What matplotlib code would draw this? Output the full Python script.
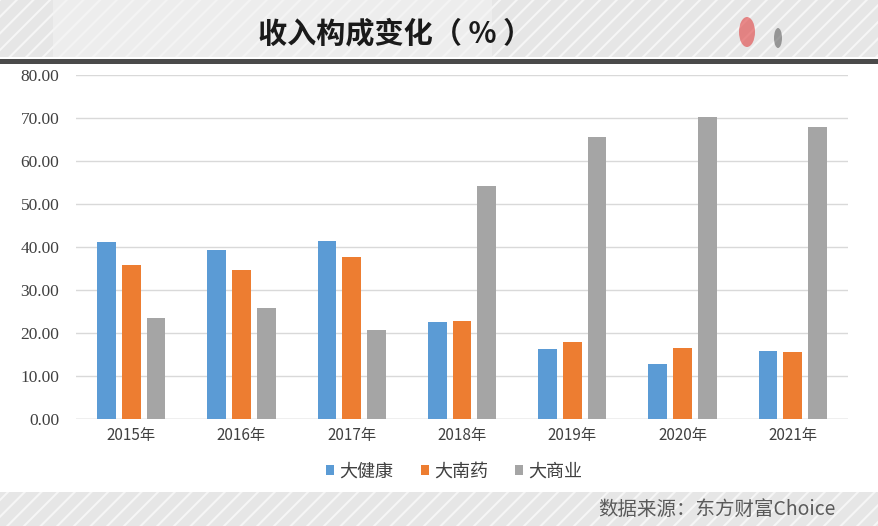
import numpy as np
import matplotlib.pyplot as plt
from matplotlib.patches import Rectangle, Ellipse

plt.rcParams['font.family'] = ['Noto Sans CJK SC', 'DejaVu Sans']
plt.rcParams['hatch.linewidth'] = 1.5

years = ['2015年', '2016年', '2017年', '2018年', '2019年', '2020年', '2021年']
health = [41.1, 39.2, 41.3, 22.6, 16.3, 12.8, 15.9]
pharma = [35.7, 34.7, 37.6, 22.8, 17.9, 16.5, 15.6]
commerce = [23.4, 25.9, 20.7, 54.1, 65.5, 70.2, 67.8]
series_names = ['大健康', '大南药', '大商业']
colors = ['#5B9BD5', '#ED7D31', '#A5A5A5']

fig = plt.figure(figsize=(8.79, 5.26), dpi=100)
fig.patch.set_facecolor('white')

# top and bottom banners with diagonal stripes
fig.patches.append(Rectangle((0, 1 - 57/526), 1, 57/526, transform=fig.transFigure,
                             facecolor='#e6e6e6', edgecolor='#f6f6f6', hatch='//',
                             linewidth=0, zorder=0))
fig.patches.append(Rectangle((0.06, 1 - 57/526), 0.5, 57/526, transform=fig.transFigure,
                             facecolor='#f3f3f3', linewidth=0, zorder=0, alpha=0.6))
fig.patches.append(Rectangle((0, 1 - 64/526), 1, 5/526, transform=fig.transFigure,
                             facecolor='#4a4a4a', linewidth=0, zorder=1))
fig.patches.append(Rectangle((0, 0), 1, 34/526, transform=fig.transFigure,
                             facecolor='#e6e6e6', edgecolor='#f6f6f6', hatch='//',
                             linewidth=0, zorder=0))
fig.patches.append(Ellipse((747/879, 1 - 32/526), 16/879, 30/526, transform=fig.transFigure,
                           facecolor='#e04040', alpha=0.6, linewidth=0, zorder=1))
fig.patches.append(Ellipse((778/879, 1 - 38/526), 8/879, 20/526, transform=fig.transFigure,
                           facecolor='#606060', alpha=0.6, linewidth=0, zorder=1))

fig.text(395/879, 1 - 33/526, '收入构成变化（ % ）', ha='center', va='center',
         fontsize=21, fontweight='bold', color='#1a1a1a')
fig.text(717/879, 1 - 509/526, '数据来源：东方财富Choice', ha='center', va='center',
         fontsize=14, color='#5a5a5a')

ax = fig.add_axes([76/879, 1 - 419/526, 772/879, 344/526])
x = np.arange(len(years))
w = 0.17
step = 0.225
for i, (vals, name) in enumerate(zip([health, pharma, commerce], series_names)):
    ax.bar(x + (i - 1) * step, vals, width=w, color=colors[i], label=name, zorder=3)

ax.set_xlim(-0.5, len(years) - 0.5)
ax.set_ylim(0, 80)
ax.set_yticks(np.arange(0, 81, 10))
ax.set_yticklabels([f'{v:.2f}' for v in np.arange(0, 81, 10)],
                   family='Liberation Serif', fontsize=12.5, color='#404040')
ax.set_xticks(x)
ax.set_xticklabels(years, fontsize=11, color='#404040', family=['Noto Sans CJK SC'])
ax.tick_params(length=0, axis='both')
ax.tick_params(axis='y', pad=12)
ax.tick_params(axis='x', pad=6)
ax.grid(axis='y', color='#d9d9d9', linewidth=1, zorder=0)
for s in ax.spines.values():
    s.set_visible(False)
ax.axhline(0, color='#d0d0d0', linewidth=1, zorder=2)

ax.legend(loc='upper center', bbox_to_anchor=(0.49, -0.08), ncol=3, frameon=False,
          fontsize=13, handlelength=0.45, handleheight=0.45, handletextpad=0.3,
          columnspacing=1.5, labelcolor='#404040')

fig.savefig('out.png', dpi=100)
